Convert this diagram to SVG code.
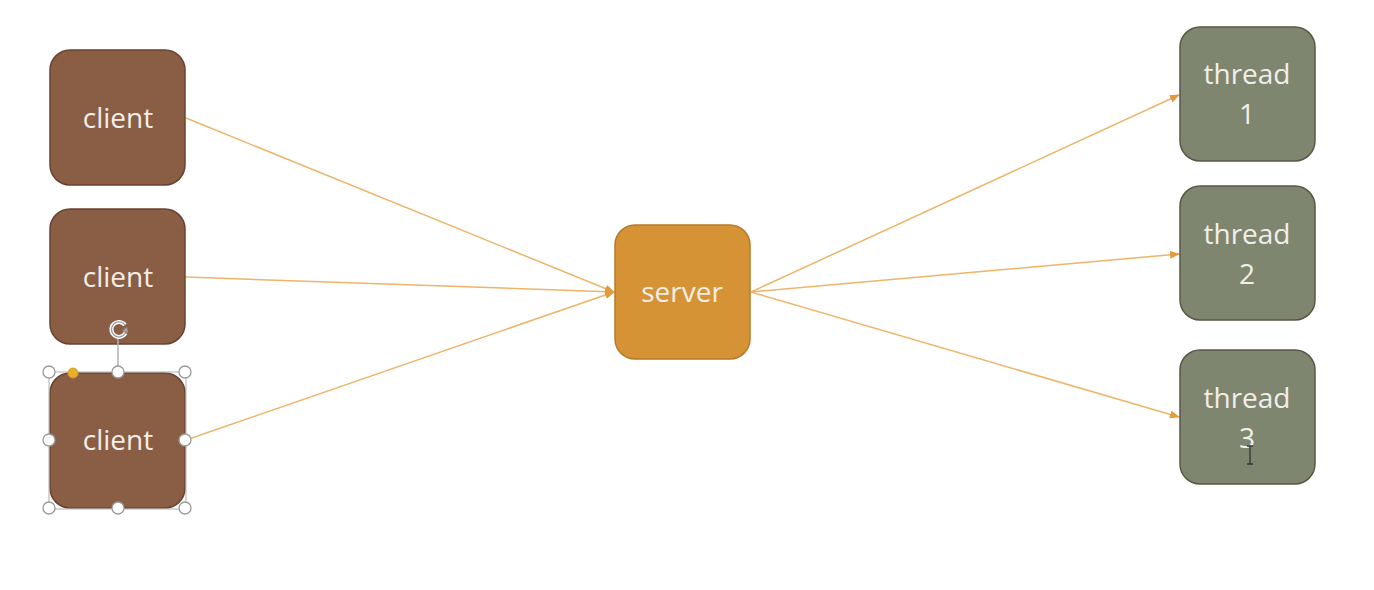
<svg xmlns="http://www.w3.org/2000/svg" width="1374" height="590" viewBox="0 0 1374 590">
<style>
.client{fill:#8A5D45;stroke:#6A4330;stroke-width:1.5}
.server{fill:#D69336;stroke:#B8792A;stroke-width:1.5}
.thread{fill:#7E8670;stroke:#5C5648;stroke-width:1.5}
.lbl{font-family:"Open Sans","Liberation Sans",sans-serif;font-size:28px;fill:#F3EEE8;text-anchor:middle}
.conn{stroke:#EDB46A;stroke-width:1.5;fill:none;marker-end:url(#arr)}
.h{fill:#fff;stroke:#9a9a9a;stroke-width:1.3}
</style>
<defs>
<marker id="arr" markerWidth="10" markerHeight="10" refX="9" refY="5" orient="auto" markerUnits="userSpaceOnUse">
<path d="M0,1 L10,5 L0,9 z" fill="#E39A3A"/>
</marker>
</defs>
<rect width="1374" height="590" fill="#fff"/>
<g id="connectors">
<line class="conn" x1="186" y1="118" x2="614" y2="292"/>
<line class="conn" x1="186" y1="277" x2="614" y2="292"/>
<line class="conn" x1="186" y1="440" x2="614" y2="292"/>
<line class="conn" x1="751" y1="292" x2="1179" y2="95"/>
<line class="conn" x1="751" y1="292" x2="1179" y2="254"/>
<line class="conn" x1="751" y1="292" x2="1179" y2="417"/>
</g>
<g id="client1"><rect class="client" x="50" y="50" width="135" height="135" rx="20"/><text class="lbl" x="118" y="128">client</text></g>
<g id="client2"><rect class="client" x="50" y="209" width="135" height="135" rx="20"/><text class="lbl" x="118" y="287">client</text></g>
<g id="client3"><rect class="client" x="50" y="373" width="135" height="135" rx="20"/><text class="lbl" x="118" y="450">client</text></g>
<g id="server"><rect class="server" x="615" y="225" width="135" height="134" rx="20"/><text class="lbl" x="682" y="302">server</text></g>
<g id="thread1"><rect class="thread" x="1180" y="27" width="135" height="134" rx="20"/><text class="lbl" x="1247" y="84">thread</text><text class="lbl" x="1247" y="124">1</text></g>
<g id="thread2"><rect class="thread" x="1180" y="186" width="135" height="134" rx="20"/><text class="lbl" x="1247" y="244">thread</text><text class="lbl" x="1247" y="284">2</text></g>
<g id="thread3"><rect class="thread" x="1180" y="350" width="135" height="134" rx="20"/><text class="lbl" x="1247" y="408">thread</text><text class="lbl" x="1247" y="448">3</text></g>
<g id="selection">
<rect x="49" y="372" width="137" height="137" fill="none" stroke="#b0b0b0" stroke-width="1"/>
<line x1="118" y1="338" x2="118" y2="372" stroke="#b0b0b0" stroke-width="1.5"/>
<path d="M125,325 A7.5,7.5 0 1 0 125.5,333" fill="none" stroke="#fff" stroke-width="4"/>
<path d="M125,325 A7.5,7.5 0 1 0 125.5,333" fill="none" stroke="#a0a0a0" stroke-width="1.4"/>
<path d="M128,333 L122,331 L127,327 z" fill="#a0a0a0"/>
<circle class="h" cx="49" cy="372" r="6"/><circle class="h" cx="118" cy="372" r="6"/><circle class="h" cx="185" cy="372" r="6"/>
<circle class="h" cx="49" cy="440" r="6"/><circle class="h" cx="185" cy="440" r="6"/>
<circle class="h" cx="49" cy="508" r="6"/><circle class="h" cx="118" cy="508" r="6"/><circle class="h" cx="185" cy="508" r="6"/>
<circle cx="73" cy="373" r="5" fill="#E8B02A" stroke="#d9a020" stroke-width="1"/>
</g>
<g id="cursor" stroke="#333" stroke-width="1.3" fill="none">
<path d="M1247,446 h6 M1250,446 v18 M1247,464 h6"/>
</g>
</svg>
